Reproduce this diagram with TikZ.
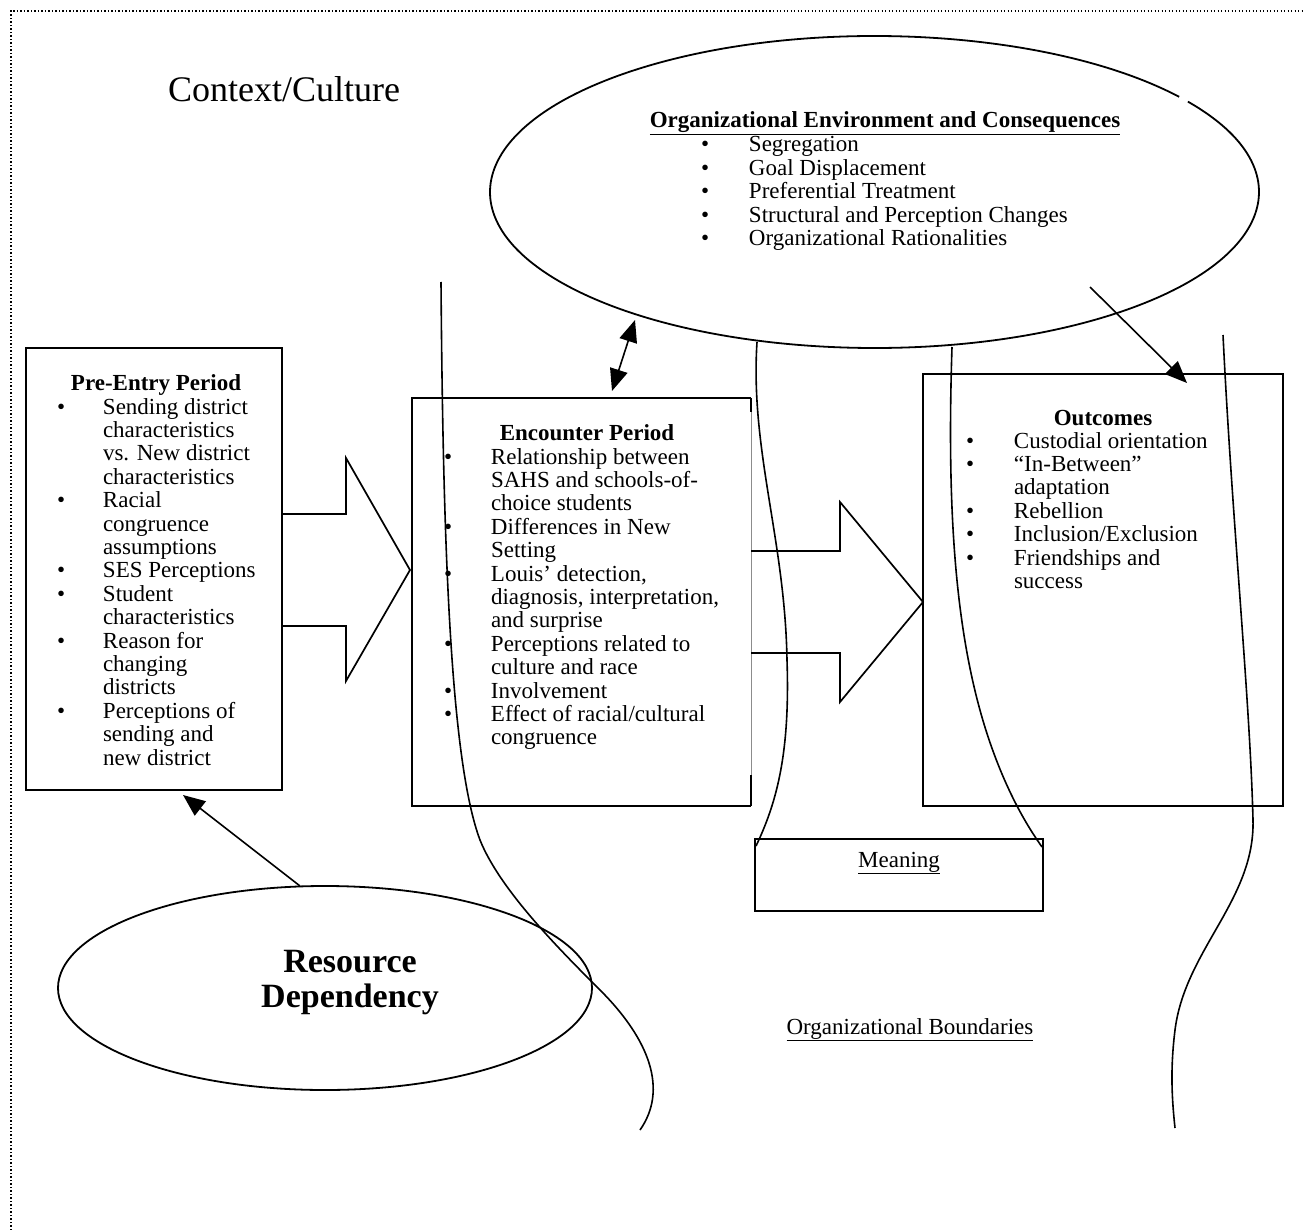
\documentclass[tikz,border=0pt]{standalone}
\usepackage{fontspec}
\setmainfont{Liberation Serif}
\usetikzlibrary{arrows.meta,shapes.geometric}

% bulleted list: #1 = indent of the item text, #2 = rows
\newcommand{\bulletlist}[2]{\begin{tabular}[t]{@{}p{#1}@{}l@{}}#2\end{tabular}}

\begin{document}
\begin{tikzpicture}[x=1pt,y=-1pt,
  every node/.style={inner sep=0pt,outer sep=0pt},
  boxline/.style={line width=1.9pt},
  box/.style={draw,boxline,rectangle},
  bound/.style={line width=1.6pt},
  ell/.style={line width=1.8pt},
  body/.style={font=\fontsize{23}{23.4}\selectfont,anchor=base west},
  heading/.style={font=\fontsize{23}{23.4}\selectfont\bfseries,anchor=base},
  tip/.style={-{Triangle[length=22pt,width=18pt]},line width=1.6pt},
  tiptwo/.style={{Triangle[length=22pt,width=18pt]}-{Triangle[length=22pt,width=18pt]},line width=1.6pt},
  blockarrow/.style={line width=1.7pt,line join=miter},
  frameline/.style={line width=1.3pt,dash pattern=on 1.3pt off 2.2pt},
]
\useasboundingbox (0,0) rectangle (1303,1230);

% dotted page frame (continues past the right and bottom edges)
\draw[frameline] (11,1300) -- (11,11) -- (1340,11);

% title of the whole scene
\node[anchor=base west,font=\fontsize{36}{40}\selectfont] (ctx) at (168,102) {Context/Culture};

% ---------- organizational environment ellipse ----------
\node[ellipse,minimum width=769pt,minimum height=312pt] (env) at (874.5,192) {};
\draw[ell] ([shift={(37.6:384.5pt and 156pt)}]env.center)
  arc[start angle=37.6,end angle=395.4,x radius=384.5pt,y radius=156pt];
\node[heading] (envT) at (885,128) {\underline{Organizational Environment and Consequences}};
\node[body] (envL) at (701,152) {\bulletlist{48pt}{%
\textbullet & Segregation\\
 \textbullet & Goal Displacement\\
 \textbullet & Preferential Treatment\\
 \textbullet & Structural and Perception Changes\\
 \textbullet & Organizational Rationalities}};

% ---------- boxes ----------
\node[box,minimum width=256pt,minimum height=442pt] (pre) at (154,569) {};
\node[minimum width=339pt,minimum height=408pt] (enc) at (581.5,602) {};
\node[box,minimum width=360pt,minimum height=432pt] (out) at (1103,590) {};
\node[box,minimum width=288pt,minimum height=72pt] (mean) at (899,875) {};

% encounter box: three firm sides, the right side fades where the arrow leaves
\draw[boxline] (enc.north east) -- (enc.north west) -- (enc.south west) -- (enc.south east);
\draw[boxline] (enc.north east) -- (751,412);
\draw[boxline] (751,775) -- (enc.south east);
\draw[line width=0.9pt,black!45] (751,412) -- (751,775);

% ---------- box texts ----------
\node[heading] (preT) at (156,390) {Pre-Entry Period};
\node[body] (preL) at (57,414) {\bulletlist{46pt}{%
\textbullet & Sending district\\
 & characteristics\\
 & vs. New district\\
 & characteristics\\
 \textbullet & Racial\\
 & congruence\\
 & assumptions\\
 \textbullet & SES Perceptions\\
 \textbullet & Student\\
 & characteristics\\
 \textbullet & Reason for\\
 & changing\\
 & districts\\
 \textbullet & Perceptions of\\
 & sending and\\
 & new district}};

\node[heading] (encT) at (587,440) {Encounter Period};
\node[body] (encL) at (444,464) {\bulletlist{47pt}{%
\textbullet & Relationship between\\
 & SAHS and schools-of-\\
 & choice students\\
 \textbullet & Differences in New\\
 & Setting\\
 \textbullet & Louis’ detection,\\
 & diagnosis, interpretation,\\
 & and surprise\\
 \textbullet & Perceptions related to\\
 & culture and race\\
 \textbullet & Involvement\\
 \textbullet & Effect of racial/cultural\\
 & congruence}};

\node[heading] (outT) at (1103,425) {Outcomes};
\node[body] (outL) at (966,448) {\bulletlist{48pt}{%
\textbullet & Custodial orientation\\
 \textbullet & “In-Between”\\
 & adaptation\\
 \textbullet & Rebellion\\
 \textbullet & Inclusion/Exclusion\\
 \textbullet & Friendships and\\
 & success}};

\node[anchor=base,font=\fontsize{23}{23.4}\selectfont] (meanT) at (899,867) {\underline{Meaning}};
\node[anchor=base,font=\fontsize{23}{23.4}\selectfont] (bndT) at (910,1034) {\underline{Organizational Boundaries}};

% ---------- resource dependency ----------
\node[draw,ell,ellipse,minimum width=534pt,minimum height=204pt] (res) at (325,988) {};
\node[anchor=base,font=\fontsize{34}{35}\selectfont\bfseries] (resT) at (350,972)
  {\begin{tabular}[t]{@{}c@{}}Resource\\Dependency\end{tabular}};

% ---------- block arrows ----------
\draw[blockarrow] (282,514) -- (346,514) -- (346,458) -- (410,570) -- (346,681) -- (346,626) -- (282,626);
\draw[blockarrow] (751,551) -- (840,551) -- (840,502) -- (923,602) -- (840,702) -- (840,653) -- (751,653);

% ---------- organizational boundaries ----------
\draw[bound] (441,282) .. controls (443,540) and (450,760) .. (480,840)
  .. controls (500,890) and (560,950) .. (600,990)
  .. controls (650,1040) and (668,1090) .. (640,1130);
\draw[bound] (757,342) .. controls (750,450) and (785,540) .. (787,660)
  .. controls (790,750) and (778,800) .. (756,846);
\draw[bound] (952,347) .. controls (945,560) and (962,700) .. (1017,806)
  .. controls (1027,825) and (1035,837) .. (1042,847);
\draw[bound] (1223,335) .. controls (1232,520) and (1250,700) .. (1253,820)
  .. controls (1255,900) and (1185,950) .. (1175,1030)
  .. controls (1170,1070) and (1172,1100) .. (1175,1128);

% ---------- connectors ----------
\coordinate (resTail) at (300,886);
\coordinate (preTip) at (183,795);
\coordinate (encTip) at (612,391);
\coordinate (envTip) at (635,320);
\coordinate (envTail) at (1090,287);
\coordinate (outTip) at (1187,383);
\draw[tip] (resTail) -- (preTip);
\draw[tiptwo] (encTip) -- (envTip);
\draw[tip] (envTail) -- (outTip);
\end{tikzpicture}
\end{document}
